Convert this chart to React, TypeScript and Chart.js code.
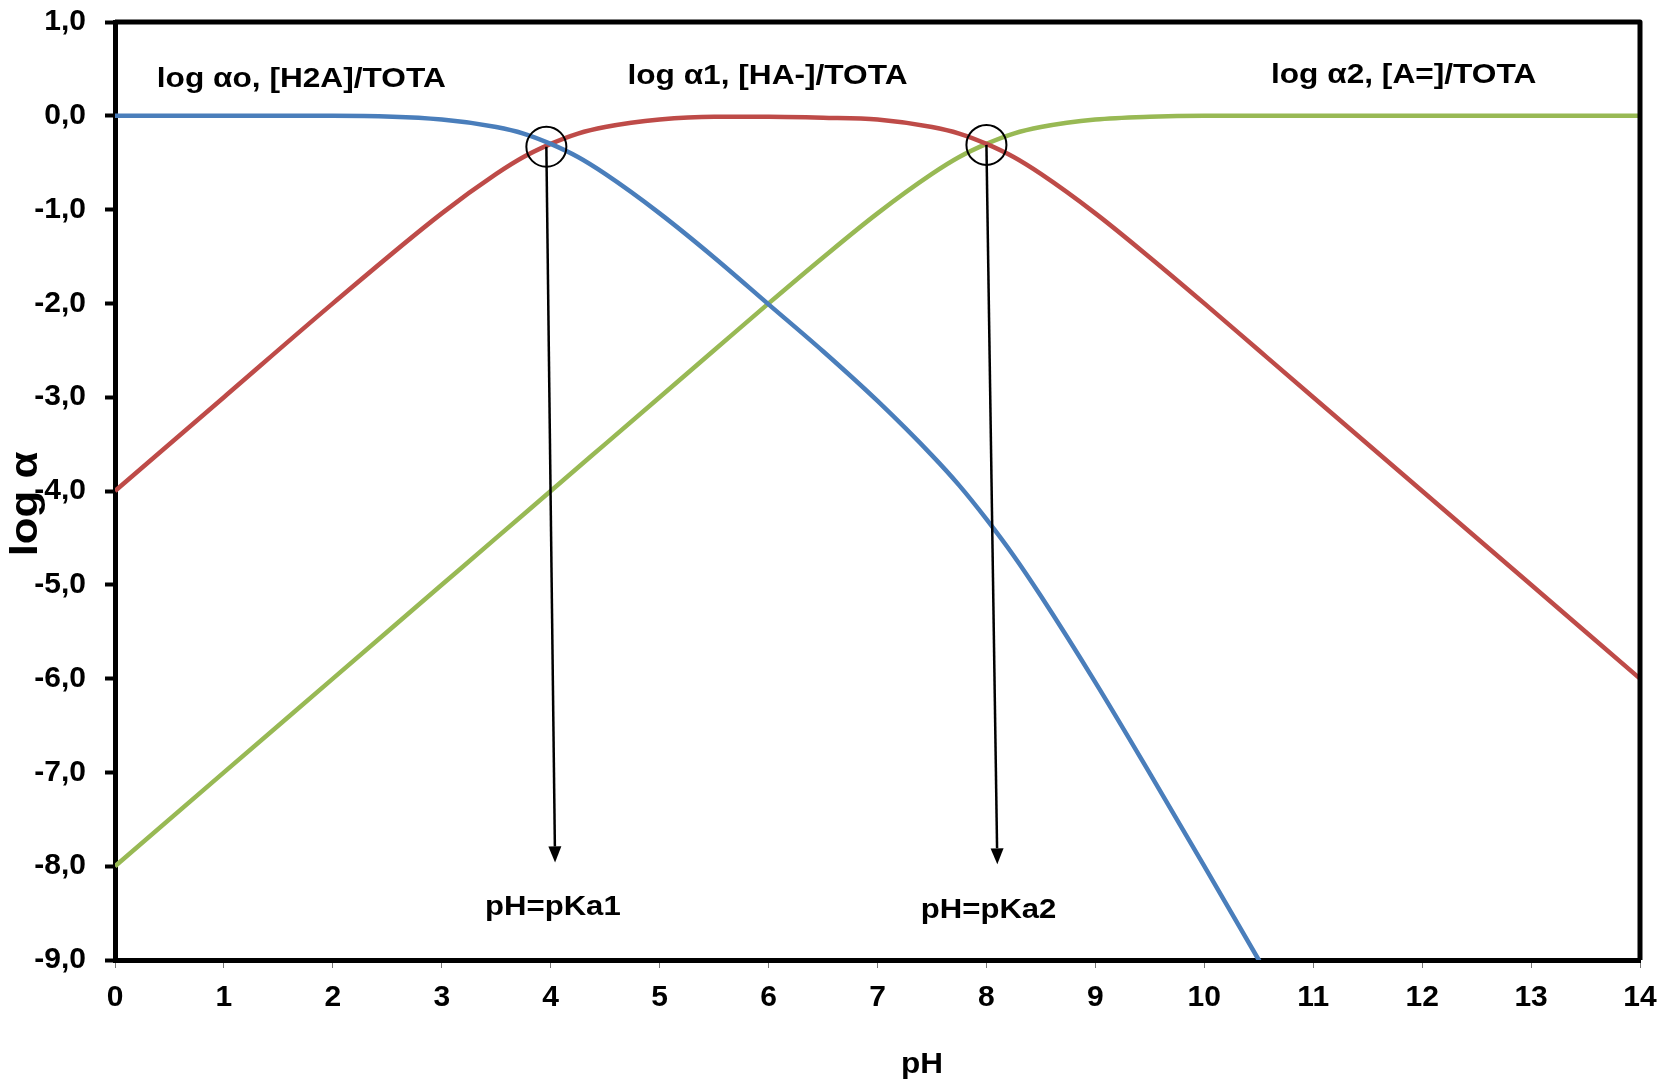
import React, { useEffect, useRef } from "react";
import { Chart, registerables } from "chart.js";

Chart.register(...registerables);

// pH values at which the curves were read
const pHValues = [0, 1, 2, 3, 3.5, 3.75, 4, 4.25, 4.5, 5, 5.5, 6, 6.5, 7, 7.5, 7.75, 8, 8.25, 8.5, 9, 9.5, 10, 10.5, 11, 12, 13, 14];

// log αo, [H2A]/TOTA (blue)
const logAlpha0 = [0, 0, 0, -0.04, -0.12, -0.19, -0.3, -0.44, -0.62, -1.04, -1.51, -2.01, -2.51, -3.04, -3.62, -3.94, -4.3, -4.69, -5.12, -6.04, -7.01, -8.0, -9.0, -10.0, null, null, null];
// log α1, [HA-]/TOTA (red)
const logAlpha1 = [-4.0, -3.0, -2.0, -1.04, -0.62, -0.44, -0.3, -0.19, -0.12, -0.04, -0.01, -0.01, -0.02, -0.04, -0.12, -0.19, -0.3, -0.44, -0.62, -1.04, -1.51, -2.0, -2.5, -3.0, -4.0, -5.0, -6.0];
// log α2, [A=]/TOTA (green)
const logAlpha2 = [-8.0, -7.0, -6.0, -5.0, -4.5, -4.25, -4.0, -3.75, -3.5, -3.0, -2.5, -2.0, -1.51, -1.04, -0.62, -0.44, -0.3, -0.19, -0.12, -0.04, -0.01, 0, 0, 0, 0, 0, 0];

const seriesLabels = ["log αo, [H2A]/TOTA", "log α1, [HA-]/TOTA", "log α2, [A=]/TOTA"];
const seriesColors = ["#4A7EBB", "#BE4B48", "#98B954"];

// annotation labels (text, anchor pH, anchor log α)
const curveLabelText = ["log αo, [H2A]/TOTA", "log α1, [HA-]/TOTA", "log α2, [A=]/TOTA"];
const curveLabelX = [1.71, 5.99, 11.83];
const curveLabelY = [0.39, 0.42, 0.43];

// pKa markers: circle at crossing, arrow down to label
const pKaLabels = ["pH=pKa1", "pH=pKa2"];
const pKaCircleX = [3.96, 8.0];
const pKaCircleY = [-0.33, -0.31];
const pKaArrowEndX = [4.04, 8.1];
const pKaArrowEndY = [-7.96, -7.98];
const pKaTextX = [4.02, 8.02];
const pKaTextY = [-8.44, -8.47];

const xTitle = "pH";
const yTitle = "log α";

const FONT = "'Liberation Sans', Arial, Helvetica, sans-serif";

function stretchedText(ctx: CanvasRenderingContext2D, text: string, x: number, y: number, size: number, sx: number) {
  ctx.save();
  ctx.translate(x, y);
  ctx.scale(sx, 1);
  ctx.font = `bold ${size}px ${FONT}`;
  ctx.textAlign = "center";
  ctx.textBaseline = "middle";
  ctx.fillStyle = "#000";
  ctx.fillText(text, 0, 0);
  ctx.restore();
}

const annotationPlugin = {
  id: "annotations",
  afterDatasetsDraw(chart: any) {
    const { ctx, chartArea, scales } = chart;
    const xs = scales.x;
    const ys = scales.y;
    ctx.save();
    // top + right frame
    ctx.strokeStyle = "#000";
    ctx.lineWidth = 5;
    ctx.lineJoin = "round";
    ctx.beginPath();
    ctx.moveTo(chartArea.left, chartArea.top);
    ctx.lineTo(chartArea.right, chartArea.top);
    ctx.lineTo(chartArea.right, chartArea.bottom);
    ctx.stroke();

    // curve labels
    for (let i = 0; i < curveLabelText.length; i++) {
      stretchedText(ctx, curveLabelText[i], xs.getPixelForValue(curveLabelX[i]), ys.getPixelForValue(curveLabelY[i]), 28, 1.13);
    }

    // pKa circles, arrows, labels
    for (let i = 0; i < pKaLabels.length; i++) {
      const cx = xs.getPixelForValue(pKaCircleX[i]);
      const cy = ys.getPixelForValue(pKaCircleY[i]);
      ctx.strokeStyle = "#000";
      ctx.lineWidth = 2;
      ctx.beginPath();
      ctx.arc(cx, cy, 20, 0, Math.PI * 2);
      ctx.stroke();

      const ex = xs.getPixelForValue(pKaArrowEndX[i]);
      const ey = ys.getPixelForValue(pKaArrowEndY[i]);
      const ang = Math.atan2(ey - cy, ex - cx);
      const headLen = 16;
      const headHalf = 6.5;
      const bx = ex - headLen * Math.cos(ang);
      const by = ey - headLen * Math.sin(ang);
      ctx.lineWidth = 2.5;
      ctx.beginPath();
      ctx.moveTo(cx, cy);
      ctx.lineTo(bx, by);
      ctx.stroke();
      ctx.fillStyle = "#000";
      ctx.beginPath();
      ctx.moveTo(ex, ey);
      ctx.lineTo(bx + headHalf * Math.sin(ang), by - headHalf * Math.cos(ang));
      ctx.lineTo(bx - headHalf * Math.sin(ang), by + headHalf * Math.cos(ang));
      ctx.closePath();
      ctx.fill();

      stretchedText(ctx, pKaLabels[i], xs.getPixelForValue(pKaTextX[i]), ys.getPixelForValue(pKaTextY[i]), 28, 1.11);
    }

    // axis titles
    stretchedText(ctx, xTitle, 922, 1065, 30, 1.05);
    ctx.save();
    ctx.translate(27, 504);
    ctx.rotate(-Math.PI / 2);
    stretchedText(ctx, yTitle, 0, 0, 38, 1.15);
    ctx.restore();

    ctx.restore();
  },
};

export default function App() {
  const canvasRef = useRef<HTMLCanvasElement | null>(null);

  useEffect(() => {
    const canvas = canvasRef.current;
    if (!canvas) return;
    const makeData = (vals: (number | null)[]) =>
      pHValues.map((x, i) => ({ x, y: vals[i] }));
    const allSeries = [logAlpha0, logAlpha1, logAlpha2];

    const chart = new Chart(canvas, {
      type: "line",
      data: {
        datasets: allSeries.map((vals, i) => ({
          label: seriesLabels[i],
          data: makeData(vals),
          borderColor: seriesColors[i],
          backgroundColor: seriesColors[i],
          borderWidth: 4.5,
          pointRadius: 0,
          cubicInterpolationMode: "monotone" as const,
          clip: 0,
          spanGaps: false,
        })),
      },
      options: {
        animation: false,
        responsive: false,
        devicePixelRatio: 1,
        layout: { padding: { top: 22, right: 33, left: 0, bottom: 0 } },
        plugins: {
          legend: { display: false },
          tooltip: { enabled: false },
        },
        scales: {
          x: {
            type: "linear",
            min: 0,
            max: 14,
            afterFit: (s: any) => {
              s.height = 125;
            },
            ticks: {
              stepSize: 1,
              autoSkip: false,
              maxRotation: 0,
              color: "#000",
              padding: 12,
              font: { family: FONT, size: 30, weight: "bold" },
              callback: (v: any) => String(v),
            },
            grid: {
              drawOnChartArea: false,
              drawTicks: true,
              tickLength: 8,
              tickColor: "#777",
              tickWidth: 1,
            },
            border: { display: true, color: "#000", width: 5 },
          },
          y: {
            type: "linear",
            min: -9,
            max: 1,
            afterFit: (s: any) => {
              s.width = 115;
              s.paddingTop = 0;
              s.paddingBottom = 0;
            },
            ticks: {
              stepSize: 1,
              autoSkip: false,
              color: "#000",
              padding: 19,
              font: { family: FONT, size: 30, weight: "bold" },
              callback: (v: any) => Number(v).toFixed(1).replace(".", ","),
            },
            grid: {
              drawOnChartArea: false,
              drawTicks: true,
              tickLength: 10,
              tickColor: "#000",
              tickWidth: 4,
            },
            border: { display: true, color: "#000", width: 5 },
          },
        },
      },
      plugins: [annotationPlugin],
    });
    return () => chart.destroy();
  }, []);

  return (
    <div style={{ position: "fixed", left: 0, top: 0, width: 1673, height: 1085, background: "#fff" }}>
      <canvas ref={canvasRef} width={1673} height={1085} />
    </div>
  );
}
